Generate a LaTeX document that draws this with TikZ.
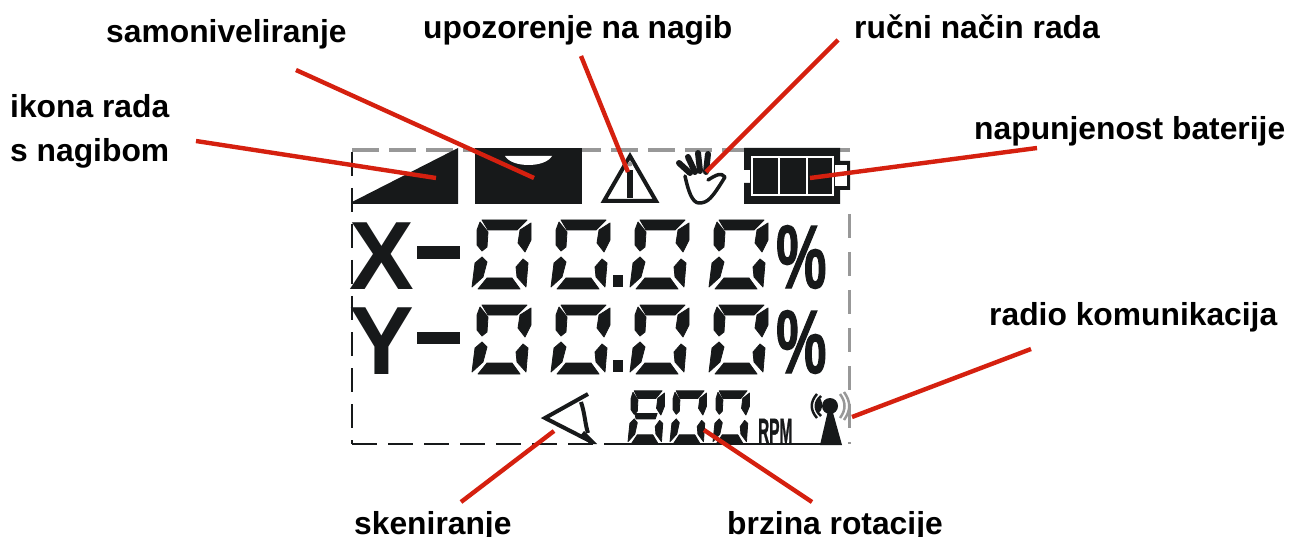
\documentclass[tikz,border=0pt]{standalone}
\usepackage{fontspec}
\setmainfont{Liberation Sans}
\newfontfamily\fatfont[FakeBold=1.5]{Liberation Sans Bold}
\definecolor{lcd}{HTML}{17191A}
\definecolor{callout}{HTML}{D5200F}
\definecolor{lcdgray}{HTML}{989898}
\tikzset{
  lbl/.style={anchor=base west,inner sep=0pt,font=\fontsize{31.8}{34}\selectfont\bfseries,text=black},
  big/.style={anchor=base west,inner sep=0pt,text=lcd},
  callline/.style={draw=callout,line width=4.4pt},
  stroke/.style={draw=lcd,line width=4pt,line join=miter},
  seg/.style={fill=lcd,draw=lcd,line width=.8pt,line join=round}
}
\newcommand{\segset}{%
  \path[seg] (10,1)--(55,1)--(45,11)--(16,11)--cycle;
  \path[seg] (8,3)--(16,13)--(15,28)--(10,32)--(5,26)--(5,11)--cycle;
  \path[seg] (59,4)--(59,21)--(53,33)--(46,24)--(48,11)--cycle;
  \path[seg] (10,38)--(15,43)--(11,58)--(0,68)--(3,44)--cycle;
  \path[seg] (51,40)--(56,44)--(54,68)--(45,58)--(44,48)--cycle;
  \path[seg] (15,59)--(40,59)--(48,70)--(6,70)--cycle;
}
\newcommand{\segmid}{\path[seg] (11,31)--(47,31)--(44,38)--(13,38)--cycle;}
\begin{document}
\begin{tikzpicture}[x=1pt,y=-1pt]
\useasboundingbox[fill=white] (0,0) rectangle (1290,537);
% LCD frame
\draw[lcdgray,line width=4pt,dash pattern=on 27pt off 10pt] (352,150)--(850,150);
\draw[lcd,line width=2pt,dash pattern=on 25pt off 11pt] (352,444)--(630,444);
\draw[lcd,line width=2pt] (608,444)--(830,444);
\draw[lcd,line width=1.6pt,dash pattern=on 24pt off 12pt] (352,152)--(352,444);
\draw[lcdgray,line width=3pt,dash pattern=on 24pt off 14pt] (849,214)--(849,444);
% incline icons
\fill[lcd] (352,202)--(458,148)--(458,204)--(352,204)--cycle;
\fill[lcd] (475,148) rectangle (582,204);
\fill[white] (505,156)--(552,156) .. controls (545,168) and (512,168) .. (505,156)--cycle;
% warning
\draw[stroke] (630,156)--(604,201)--(656,201)--cycle;
\fill[lcd] (627,170) rectangle (633,198);
\fill[lcdgray] (630,164) circle (2.5pt);
% hand
\draw[lcd,line width=3.5pt,line join=round,line cap=round] (685,176) .. controls (688,190) and (692,203) .. (699,203) .. controls (708,203) and (712,198) .. (725,177) .. controls (721,172) and (716,175) .. (708,180);
\foreach \a/\b/\c/\d in {679/163/690/173,688/157/695/172,698/153/700/171,708/154/706/172}
  \draw[lcd,line width=6pt,line cap=round] (\a,\b)--(\c,\d);
% battery
\fill[lcd] (744,148)--(840,148)--(840,161)--(850,161)--(850,190)--(840,190)--(840,204)--(744,204)--(744,183)--(750,183)--(750,170)--(744,170)--cycle;
\draw[white,line width=1.8pt] (752,157) rectangle (833,195);
\draw[white,line width=1.8pt] (779,157)--(779,195) (807,157)--(807,195);
\fill[white] (835,165) rectangle (847,186);
% X and Y rows
\node[big,font=\fontsize{97}{97}\selectfont\bfseries] (xletter) at (349,290) {X};
\node[big,font=\fontsize{97}{97}\selectfont\bfseries] (yletter) at (349,374) {Y};
\fill[lcd] (417,246) rectangle (460,259);
\fill[lcd] (417,332) rectangle (460,344);
\foreach \dy in {0,85} {
  \foreach \dx in {0,79,158,237} {
    \begin{scope}[shift={(472+\dx,219+\dy)}]\segset\end{scope}
  }
  \fill[lcd] (613,275+\dy) rectangle (623,287+\dy);
  \node[big,font=\fontsize{90}{90}\fatfont,xscale=.63] at (776,288+\dy) {\%};
}
% scan icon
\draw[stroke] (588,394)--(545,418)--(588,440);
\draw[stroke] (581,402) .. controls (585,414) and (585,424) .. (588,433);
\fill[lcd] (584,431)--(597,444)--(590,444)--(580,436)--cycle;
% 800
\foreach \dx in {628,670,713} {
  \begin{scope}[shift={(\dx,390)},xscale=.62,yscale=.76]\segset\end{scope}
}
\begin{scope}[shift={(628,390)},xscale=.62,yscale=.76]\segmid\end{scope}
\node[big,font=\fontsize{35}{35}\fatfont,xscale=.44] at (758,443) {RPM};
% antenna
\fill[lcd] (830,402)--(820,445)--(842,445)--cycle;
\fill[lcd] (830,406) ellipse (8pt and 8pt);
\draw[lcd,line width=2.5pt] (821,396) .. controls (814,402) and (814,410) .. (821,416);
\draw[lcd,line width=2.5pt] (817,394) .. controls (810,402) and (810,410) .. (817,418);
\fill[lcd] (819,405) ellipse (3pt and 7pt);
\draw[lcdgray,line width=2.5pt] (840,394) .. controls (846,402) and (846,410) .. (840,418);
\draw[lcdgray,line width=2.5pt] (844,392) .. controls (851,402) and (851,410) .. (844,420);
% labels
\node[lbl] (ikona) at (10,118) {ikona rada};
\node[lbl] (nagibom) at (10,162) {s nagibom};
\node[lbl] (samo) at (106,43) {samoniveliranje};
\node[lbl] (upoz) at (423,39) {upozorenje na nagib};
\node[lbl] (rucni) at (854,39) {ručni način rada};
\node[lbl] (bat) at (974,140) {napunjenost baterije};
\node[lbl] (radio) at (989,325) {radio komunikacija};
\node[lbl] (sken) at (354,534) {skeniranje};
\node[lbl] (brz) at (727,534) {brzina rotacije};
% connector ends
\coordinate (a1) at (196,141); \coordinate (a2) at (436,178);
\coordinate (b1) at (296,70);  \coordinate (b2) at (534,178);
\coordinate (c1) at (581,56);  \coordinate (c2) at (628,172);
\coordinate (d1) at (838,40);  \coordinate (d2) at (706,172);
\coordinate (e1) at (1037,148);\coordinate (e2) at (810,178);
\coordinate (f1) at (1031,349);\coordinate (f2) at (852,417);
\coordinate (g1) at (461,502); \coordinate (g2) at (554,431);
\coordinate (h1) at (812,502); \coordinate (h2) at (704,430);
\foreach \p/\q in {a1/a2,b1/b2,c1/c2,d1/d2,e1/e2,f1/f2,g1/g2,h1/h2}
  \draw[callline] (\p)--(\q);
\end{tikzpicture}
\end{document}
